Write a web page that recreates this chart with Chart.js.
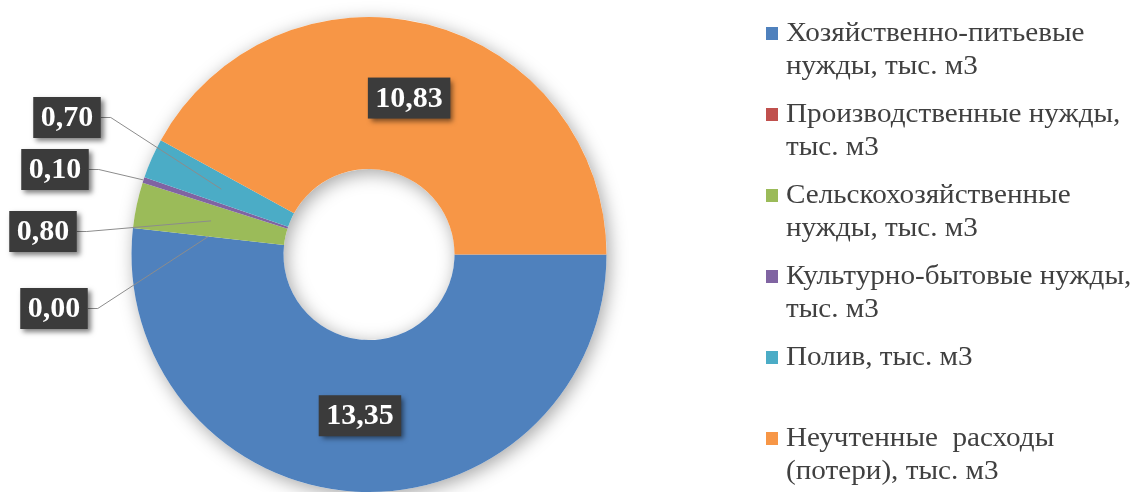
<!DOCTYPE html>
<html>
<head>
<meta charset="utf-8">
<script src="https://cdn.jsdelivr.net/npm/chart.js@4.4.1/dist/chart.umd.min.js"></script>
<style>
    html, body { margin: 0; padding: 0; background: #fff; }
    #wrap { position: relative; width: 1142px; height: 492px; overflow: hidden; }
    #legend { position: absolute; left: 766px; top: 16px; font-family: "Liberation Serif", "Times New Roman", serif; font-size: 27px; color: #404040; }
    .legend-item { height: 81px; display: flex; align-items: flex-start; }
    .legend-box { width: 12px; height: 13px; margin-top: 11px; margin-right: 8px; flex: none; }
    .legend-text { line-height: 33px; white-space: pre; transform: scaleX(1.08); transform-origin: left top; }
</style>
</head>
<body>
<div id="wrap">
    <canvas id="myChart" width="1142" height="492"></canvas>
    <div id="legend"></div>
</div>
<script>
const categories = [
    ['Хозяйственно-питьевые', 'нужды, тыс. м3'],
    ['Производственные нужды,', 'тыс. м3'],
    ['Сельскохозяйственные', 'нужды, тыс. м3'],
    ['Культурно-бытовые нужды,', 'тыс. м3'],
    ['Полив, тыс. м3'],
    ['Неучтенные  расходы', '(потери), тыс. м3']
];
const volumes = [13.35, 0.00, 0.80, 0.10, 0.70, 10.83];
const colors = ['#4F81BD', '#C0504D', '#9BBB59', '#8064A2', '#4BACC6', '#F79646'];

// where the small-slice labels sit, relative to the doughnut centre (null = on the slice)
const calloutOffsets = [null, [-315, 54], [-326, -23], [-314, -85], [-302, -137], null];
// how far out along the slice the leader line ends (0 = inner edge, 1 = outer edge)
const leaderDepth = [0.5, 0.5, 0.5, 1.0, 0.5, 0.5];

function formatValue(v) {
    return v.toFixed(2).replace('.', ',');
}

const ringShadow = {
    id: 'ringShadow',
    beforeDatasetsDraw(chart) {
        const arc = chart.getDatasetMeta(0).data[0];
        if (!arc) return;
        const ctx = chart.ctx;
        ctx.save();
        ctx.shadowColor = 'rgba(0, 0, 0, 0.35)';
        ctx.shadowBlur = 18;
        ctx.shadowOffsetX = 3;
        ctx.shadowOffsetY = 4;
        ctx.fillStyle = '#fff';
        ctx.beginPath();
        ctx.arc(arc.x, arc.y, arc.outerRadius, 0, Math.PI * 2);
        ctx.arc(arc.x, arc.y, arc.innerRadius, 0, Math.PI * 2, true);
        ctx.fill();
        ctx.restore();
    }
};

const valueLabels = {
    id: 'valueLabels',
    afterDatasetsDraw(chart) {
        const ctx = chart.ctx;
        const meta = chart.getDatasetMeta(0);
        const values = chart.data.datasets[0].data;
        ctx.save();
        ctx.font = 'bold 30px "Liberation Serif", "Times New Roman", serif';
        ctx.textAlign = 'center';
        ctx.textBaseline = 'middle';
        meta.data.forEach((arc, i) => {
            const text = formatValue(values[i]);
            const mid = (arc.startAngle + arc.endAngle) / 2;
            const r = arc.innerRadius + (arc.outerRadius - arc.innerRadius) * leaderDepth[i];
            const ax = arc.x + Math.cos(mid) * r;
            const ay = arc.y + Math.sin(mid) * r;
            let cx = ax, cy = ay;
            const w = ctx.measureText(text).width + 15;
            const h = 41;
            const off = calloutOffsets[i];
            if (off) {
                cx = arc.x + off[0];
                cy = arc.y + off[1];
                ctx.strokeStyle = '#8c8c8c';
                ctx.lineWidth = 1;
                ctx.beginPath();
                ctx.moveTo(cx + w / 2, cy);
                ctx.lineTo(cx + w / 2 + 10, cy);
                ctx.lineTo(ax, ay);
                ctx.stroke();
            }
            ctx.save();
            ctx.shadowColor = 'rgba(0, 0, 0, 0.5)';
            ctx.shadowBlur = 5;
            ctx.shadowOffsetX = 3;
            ctx.shadowOffsetY = 3;
            ctx.fillStyle = '#3b3b3b';
            ctx.fillRect(cx - w / 2, cy - h / 2, w, h);
            ctx.restore();
            ctx.fillStyle = '#ffffff';
            ctx.fillText(text, cx, cy + 1);
        });
        ctx.restore();
    }
};

const ctx = document.getElementById('myChart').getContext('2d');
const chart = new Chart(ctx, {
    type: 'doughnut',
    data: {
        labels: categories,
        datasets: [{
            data: volumes,
            backgroundColor: colors,
            borderWidth: 0,
            hoverBorderWidth: 0,
            hoverOffset: 0
        }]
    },
    options: {
        responsive: false,
        animation: false,
        rotation: 90,
        cutout: '36%',
        layout: {
            padding: { top: 17, bottom: -3, left: 0, right: 404 }
        },
        plugins: {
            legend: { display: false },
            tooltip: { enabled: false }
        }
    },
    plugins: [ringShadow, valueLabels]
});

function buildLegend() {
    const legend = document.getElementById('legend');
    legend.innerHTML = '';
    chart.data.labels.forEach((label, i) => {
        const item = document.createElement('div');
        item.className = 'legend-item';
        item.innerHTML = `<span class="legend-box" style="background:${chart.data.datasets[0].backgroundColor[i]}"></span><span class="legend-text">${label.join('\n')}</span>`;
        legend.appendChild(item);
    });
}

buildLegend();
</script>
</body>
</html>
